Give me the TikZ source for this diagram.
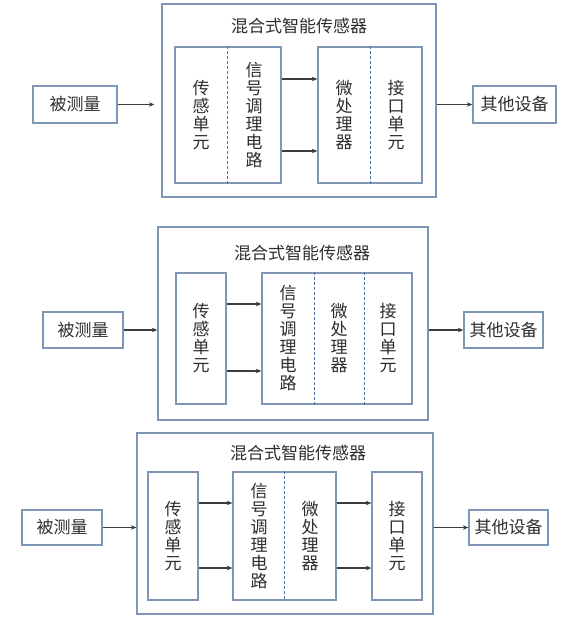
\documentclass[tikz,border=0pt]{standalone}
\usepackage{fontspec}
\newfontfamily\cjk{Noto Sans CJK SC}
\usetikzlibrary{arrows.meta,fit}
\definecolor{boxc}{HTML}{7F95B6}
\definecolor{dashc}{HTML}{4C6C9C}
\definecolor{txtc}{HTML}{2E2E2E}
\definecolor{arrc}{HTML}{3C3C3C}
\tikzset{
  box/.style={draw=boxc, line width=1.3bp, inner sep=0pt},
  lbl/.style={text=txtc, font=\cjk\fontsize{17bp}{18bp}\selectfont, align=center, inner sep=0pt},
  arr/.style={draw=arrc, line width=1.2bp, -{Stealth[length=5.5bp,width=4.5bp]}},
  sep/.style={draw=dashc, line width=1bp, dash pattern=on 3bp off 2bp},
}
\begin{document}
\begin{tikzpicture}[x=1bp,y=-1bp]
\fill[white] (0,0) rectangle (569,620);
\useasboundingbox (0,0) rectangle (569,620);

% ---------------- diagram 1 ----------------
\node[box, fit={(162,4)(436,197)}] (o1) {};
\node[lbl] (t1) at (299,26) {混合式智能传感器};
\node[box, fit={(33,86)(117,123)}] (in1) {};
\node[lbl] (l1) at (in1.center) {被测量};
\node[box, fit={(473,86)(556,123)}] (out1) {};
\node[lbl] (r1) at (out1.center) {其他设备};
\node[box, fit={(175,47)(281,183)}] (b11) {};
\node[box, fit={(318,47)(422,183)}] (b12) {};
\coordinate (d11) at (227,0);
\coordinate (d12) at (370,0);
\draw[sep] (d11 |- b11.north) -- (d11 |- b11.south);
\draw[sep] (d12 |- b12.north) -- (d12 |- b12.south);
\node[lbl] (s11) at (201,115) {传\\感\\单\\元};
\node[lbl] (s12) at (254,115) {信\\号\\调\\理\\电\\路};
\node[lbl] (s13) at (344,115) {微\\处\\理\\器};
\node[lbl] (s14) at (396,115) {接\\口\\单\\元};
\coordinate (a11) at (0,79);
\coordinate (a12) at (0,151);
\draw[arr] (b11.east |- a11) -- (b12.west |- a11);
\draw[arr] (b11.east |- a12) -- (b12.west |- a12);
\draw[arr, shorten >=7bp] (in1.east) -- (in1.east -| o1.west);
\draw[arr] (o1.east |- out1) -- (out1.west);

% ---------------- diagram 2 ----------------
\node[box, fit={(158,227)(428,420)}] (o2) {};
\node[lbl] (t2) at (302,253) {混合式智能传感器};
\node[box, fit={(43,312)(123,348)}] (in2) {};
\node[lbl] (l2) at (in2.center) {被测量};
\node[box, fit={(464,312)(543,348)}] (out2) {};
\node[lbl] (r2) at (out2.center) {其他设备};
\node[box, fit={(176,273)(226,404)}] (b21) {};
\node[lbl] (s21) at (b21.center) {传\\感\\单\\元};
\node[box, fit={(262,273)(412,404)}] (b22) {};
\coordinate (d21) at (314,0);
\coordinate (d22) at (364,0);
\draw[sep] (d21 |- b22.north) -- (d21 |- b22.south);
\draw[sep] (d22 |- b22.north) -- (d22 |- b22.south);
\node[lbl] (s22) at (288,338.5) {信\\号\\调\\理\\电\\路};
\node[lbl] (s23) at (339,338.5) {微\\处\\理\\器};
\node[lbl] (s24) at (388,338.5) {接\\口\\单\\元};
\coordinate (a21) at (0,304);
\coordinate (a22) at (0,371);
\draw[arr] (b21.east |- a21) -- (b22.west |- a21);
\draw[arr] (b21.east |- a22) -- (b22.west |- a22);
\draw[arr] (in2.east) -- (in2.east -| o2.west);
\draw[arr] (o2.east |- out2) -- (out2.west);

% ---------------- diagram 3 ----------------
\node[box, fit={(137,433)(433,614)}] (o3) {};
\node[lbl] (t3) at (298,453) {混合式智能传感器};
\node[box, fit={(22,510)(102,545)}] (in3) {};
\node[lbl] (l3) at (in3.center) {被测量};
\node[box, fit={(469,510)(548,545)}] (out3) {};
\node[lbl] (r3) at (out3.center) {其他设备};
\node[box, fit={(148,472)(198,600)}] (b31) {};
\node[lbl] (s31) at (b31.center) {传\\感\\单\\元};
\node[box, fit={(233,472)(336,600)}] (b32) {};
\node[box, fit={(372,472)(422,600)}] (b33) {};
\node[lbl] (s34) at (b33.center) {接\\口\\单\\元};
\coordinate (d31) at (284,0);
\draw[sep] (d31 |- b32.north) -- (d31 |- b32.south);
\node[lbl] (s32) at (259,536) {信\\号\\调\\理\\电\\路};
\node[lbl] (s33) at (310,536) {微\\处\\理\\器};
\coordinate (a31) at (0,503);
\coordinate (a32) at (0,568);
\draw[arr] (b31.east |- a31) -- (b32.west |- a31);
\draw[arr] (b31.east |- a32) -- (b32.west |- a32);
\draw[arr] (b32.east |- a31) -- (b33.west |- a31);
\draw[arr] (b32.east |- a32) -- (b33.west |- a32);
\draw[arr] (in3.east) -- (in3.east -| o3.west);
\draw[arr] (o3.east |- out3) -- (out3.west);
\end{tikzpicture}
\end{document}
